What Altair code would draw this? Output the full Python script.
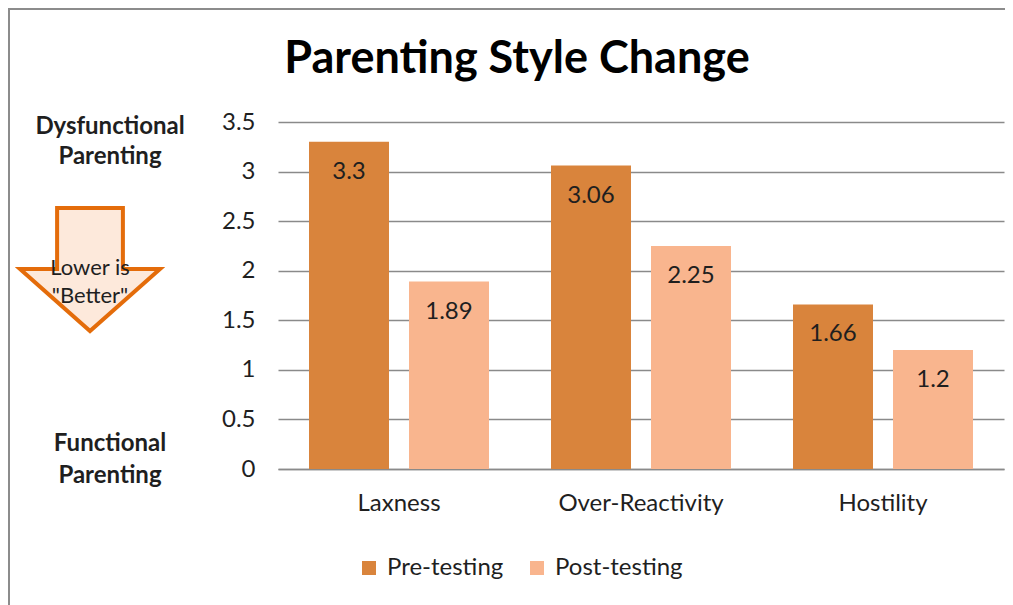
import altair as alt
import pandas as pd

categories = ["Laxness", "Over-Reactivity", "Hostility"]
series = ["Pre-testing", "Post-testing"]
pre_values = [3.3, 3.06, 1.66]
post_values = [1.89, 2.25, 1.2]
colors = ["#D9843C", "#F9B58E"]
title_text = "Parenting Style Change"
y_ticks = [0, 0.5, 1, 1.5, 2, 2.5, 3, 3.5]

rows = []
for c, a, b in zip(categories, pre_values, post_values):
    rows.append({"category": c, "series": series[0], "value": a})
    rows.append({"category": c, "series": series[1], "value": b})
df = pd.DataFrame(rows)

FONT = "Lato"
FS = 24
W, H = 726, 347

x_enc = alt.X("category:N", sort=categories, title=None,
              scale=alt.Scale(paddingInner=0, paddingOuter=0),
              axis=alt.Axis(labelAngle=0, labelFontSize=FS, labelColor="#1f1f1f",
                            labelFont=FONT, ticks=False, domain=True,
                            domainColor="#8a8a8a", domainWidth=1.5, labelPadding=22))
xo_enc = alt.XOffset("series:N", sort=series,
                     scale=alt.Scale(paddingInner=0.2, paddingOuter=0.31))
y_enc = alt.Y("value:Q", title=None,
              scale=alt.Scale(domain=[0, 3.5], nice=False),
              axis=alt.Axis(values=y_ticks, labelExpr="'' + datum.value", grid=True,
                            gridColor="#8a8a8a", gridWidth=1.5, domain=False, ticks=False,
                            labelPadding=23, labelFontSize=FS, labelColor="#1f1f1f",
                            labelFont=FONT))

bars = alt.Chart(df).mark_bar().encode(
    x=x_enc, xOffset=xo_enc, y=y_enc,
    color=alt.Color("series:N", sort=series,
                    scale=alt.Scale(domain=series, range=colors),
                    legend=alt.Legend(title=None, orient="none", legendX=79, legendY=434,
                                      direction="horizontal", symbolType="square",
                                      symbolSize=196, symbolStrokeWidth=0,
                                      labelFontSize=FS, labelFont=FONT,
                                      labelColor="#1f1f1f", columnPadding=21,
                                      labelOffset=6)),
)

labels = alt.Chart(df).mark_text(dy=30, fontSize=FS, font=FONT, color="#1f1f1f",
                                 baseline="middle").encode(
    x=alt.X("category:N", sort=categories), xOffset=alt.XOffset("series:N", sort=series),
    y="value:Q", text=alt.Text("value:Q"))

one = alt.Data(values=[{}])

title = alt.Chart(one).mark_text(fontSize=45, fontWeight="bold", font=FONT,
                                 color="#000000", baseline="middle").encode(
    x=alt.value(239), y=alt.value(-63), text=alt.value(title_text))

dys = alt.Chart(one).mark_text(fontSize=FS, fontWeight="bold", font=FONT,
                               color="#1f1f1f", baseline="middle", lineHeight=30).encode(
    x=alt.value(-168), y=alt.value(5), text=alt.value(["Dysfunctional", "Parenting"]))

func = alt.Chart(one).mark_text(fontSize=FS, fontWeight="bold", font=FONT,
                                color="#1f1f1f", baseline="middle", lineHeight=32).encode(
    x=alt.value(-168), y=alt.value(322), text=alt.value(["Functional", "Parenting"]))

arrow_path = "M -0.47 -0.87 L 0.47 -0.87 L 0.47 0 L 1.0 0 L 0 0.886 L -1.0 0 L -0.47 0 Z"
arrow = alt.Chart(one).mark_point(shape=arrow_path, size=19600, filled=True,
                                  fill="#FDE9DB", stroke="#E46C0A", strokeWidth=4,
                                  opacity=1).encode(
    x=alt.value(-188), y=alt.value(147))

arrow_text = alt.Chart(one).mark_text(fontSize=22, font=FONT, color="#1f1f1f",
                                      baseline="middle", lineHeight=28).encode(
    x=alt.value(-188), y=alt.value(146), text=alt.value(["Lower is", '"Better"']))

border_left = alt.Chart(one).mark_rule(color="#8c8c8c", strokeWidth=2).encode(
    x=alt.value(-269), y=alt.value(-114), y2=alt.value(500))
border_top = alt.Chart(one).mark_rule(color="#8c8c8c", strokeWidth=2).encode(
    x=alt.value(-270), x2=alt.value(760), y=alt.value(-113))

chart = alt.layer(bars, labels, title, dys, func, arrow, arrow_text,
                  border_left, border_top).properties(
    width=W, height=H,
    padding={"left": 270, "top": 114, "right": 1, "bottom": 140},
    autosize=alt.AutoSizeParams(type="none"),
    background="white",
).configure_view(stroke=None)

chart.save("out.html", embed_options={"renderer": "svg", "actions": False})
